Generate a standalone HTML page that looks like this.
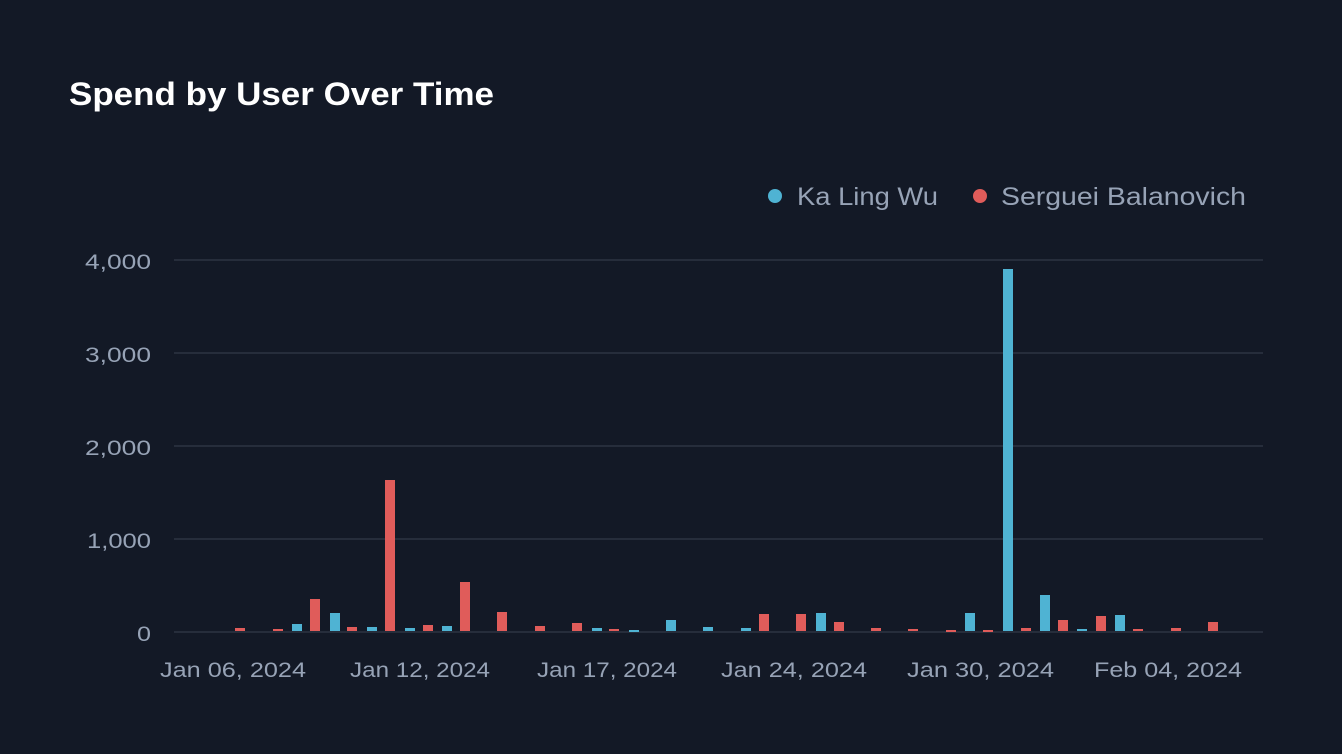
<!DOCTYPE html>
<html><head><meta charset="utf-8"><style>
html,body{margin:0;padding:0;background:#131926;}
svg{display:block}
text{font-family:"Liberation Sans",sans-serif}
</style></head><body>
<svg width="1342" height="754" viewBox="0 0 1342 754">
<rect width="1342" height="754" fill="#131926"/>
<text x="69" y="105" fill="#ffffff" font-size="32" font-weight="bold" textLength="425" lengthAdjust="spacingAndGlyphs">Spend by User Over Time</text>
<circle cx="775" cy="196" r="7" fill="#4fb3d3"/>
<text x="797" y="205" fill="#97a3b6" font-size="25" textLength="141" lengthAdjust="spacingAndGlyphs">Ka Ling Wu</text>
<circle cx="980" cy="196" r="7" fill="#e05c5a"/>
<text x="1001" y="205" fill="#97a3b6" font-size="25" textLength="245" lengthAdjust="spacingAndGlyphs">Serguei Balanovich</text>
<g stroke="#262d3b" stroke-width="2">
<line x1="174" x2="1263" y1="260" y2="260"/>
<line x1="174" x2="1263" y1="353" y2="353"/>
<line x1="174" x2="1263" y1="446" y2="446"/>
<line x1="174" x2="1263" y1="539" y2="539"/>
<line x1="174" x2="1263" y1="632" y2="632"/>
</g>
<g fill="#97a3b6" font-size="21">
<text x="85" y="269" textLength="66" lengthAdjust="spacingAndGlyphs">4,000</text>
<text x="85" y="362" textLength="66" lengthAdjust="spacingAndGlyphs">3,000</text>
<text x="85" y="455" textLength="66" lengthAdjust="spacingAndGlyphs">2,000</text>
<text x="87" y="548" textLength="64" lengthAdjust="spacingAndGlyphs">1,000</text>
<text x="137" y="641" textLength="14" lengthAdjust="spacingAndGlyphs">0</text>
</g>
<g fill="#97a3b6" font-size="21">
<text x="160" y="677" textLength="146" lengthAdjust="spacingAndGlyphs">Jan 06, 2024</text>
<text x="350" y="677" textLength="140" lengthAdjust="spacingAndGlyphs">Jan 12, 2024</text>
<text x="537" y="677" textLength="140" lengthAdjust="spacingAndGlyphs">Jan 17, 2024</text>
<text x="721" y="677" textLength="146" lengthAdjust="spacingAndGlyphs">Jan 24, 2024</text>
<text x="907" y="677" textLength="147" lengthAdjust="spacingAndGlyphs">Jan 30, 2024</text>
<text x="1094" y="677" textLength="148" lengthAdjust="spacingAndGlyphs">Feb 04, 2024</text>
</g>
<g fill="#e05c5a">
<rect x="235" y="628" width="10" height="3"/>
<rect x="273" y="629" width="10" height="2"/>
<rect x="310" y="599" width="10" height="32"/>
<rect x="347" y="627" width="10" height="4"/>
<rect x="385" y="480" width="10" height="151"/>
<rect x="423" y="625" width="10" height="6"/>
<rect x="460" y="582" width="10" height="49"/>
<rect x="497" y="612" width="10" height="19"/>
<rect x="535" y="626" width="10" height="5"/>
<rect x="572" y="623" width="10" height="8"/>
<rect x="609" y="629" width="10" height="2"/>
<rect x="759" y="614" width="10" height="17"/>
<rect x="796" y="614" width="10" height="17"/>
<rect x="834" y="622" width="10" height="9"/>
<rect x="871" y="628" width="10" height="3"/>
<rect x="908" y="629" width="10" height="2"/>
<rect x="946" y="630" width="10" height="2"/>
<rect x="983" y="630" width="10" height="2"/>
<rect x="1021" y="628" width="10" height="3"/>
<rect x="1058" y="620" width="10" height="11"/>
<rect x="1096" y="616" width="10" height="15"/>
<rect x="1133" y="629" width="10" height="2"/>
<rect x="1171" y="628" width="10" height="3"/>
<rect x="1208" y="622" width="10" height="9"/>
</g>
<g fill="#4fb3d3">
<rect x="292" y="624" width="10" height="7"/>
<rect x="330" y="613" width="10" height="18"/>
<rect x="367" y="627" width="10" height="4"/>
<rect x="405" y="628" width="10" height="3"/>
<rect x="442" y="626" width="10" height="5"/>
<rect x="592" y="628" width="10" height="3"/>
<rect x="629" y="630" width="10" height="2"/>
<rect x="666" y="620" width="10" height="11"/>
<rect x="703" y="627" width="10" height="4"/>
<rect x="741" y="628" width="10" height="3"/>
<rect x="816" y="613" width="10" height="18"/>
<rect x="965" y="613" width="10" height="18"/>
<rect x="1003" y="269" width="10" height="362"/>
<rect x="1040" y="595" width="10" height="36"/>
<rect x="1077" y="629" width="10" height="2"/>
<rect x="1115" y="615" width="10" height="16"/>
</g>
</svg>
</body></html>
